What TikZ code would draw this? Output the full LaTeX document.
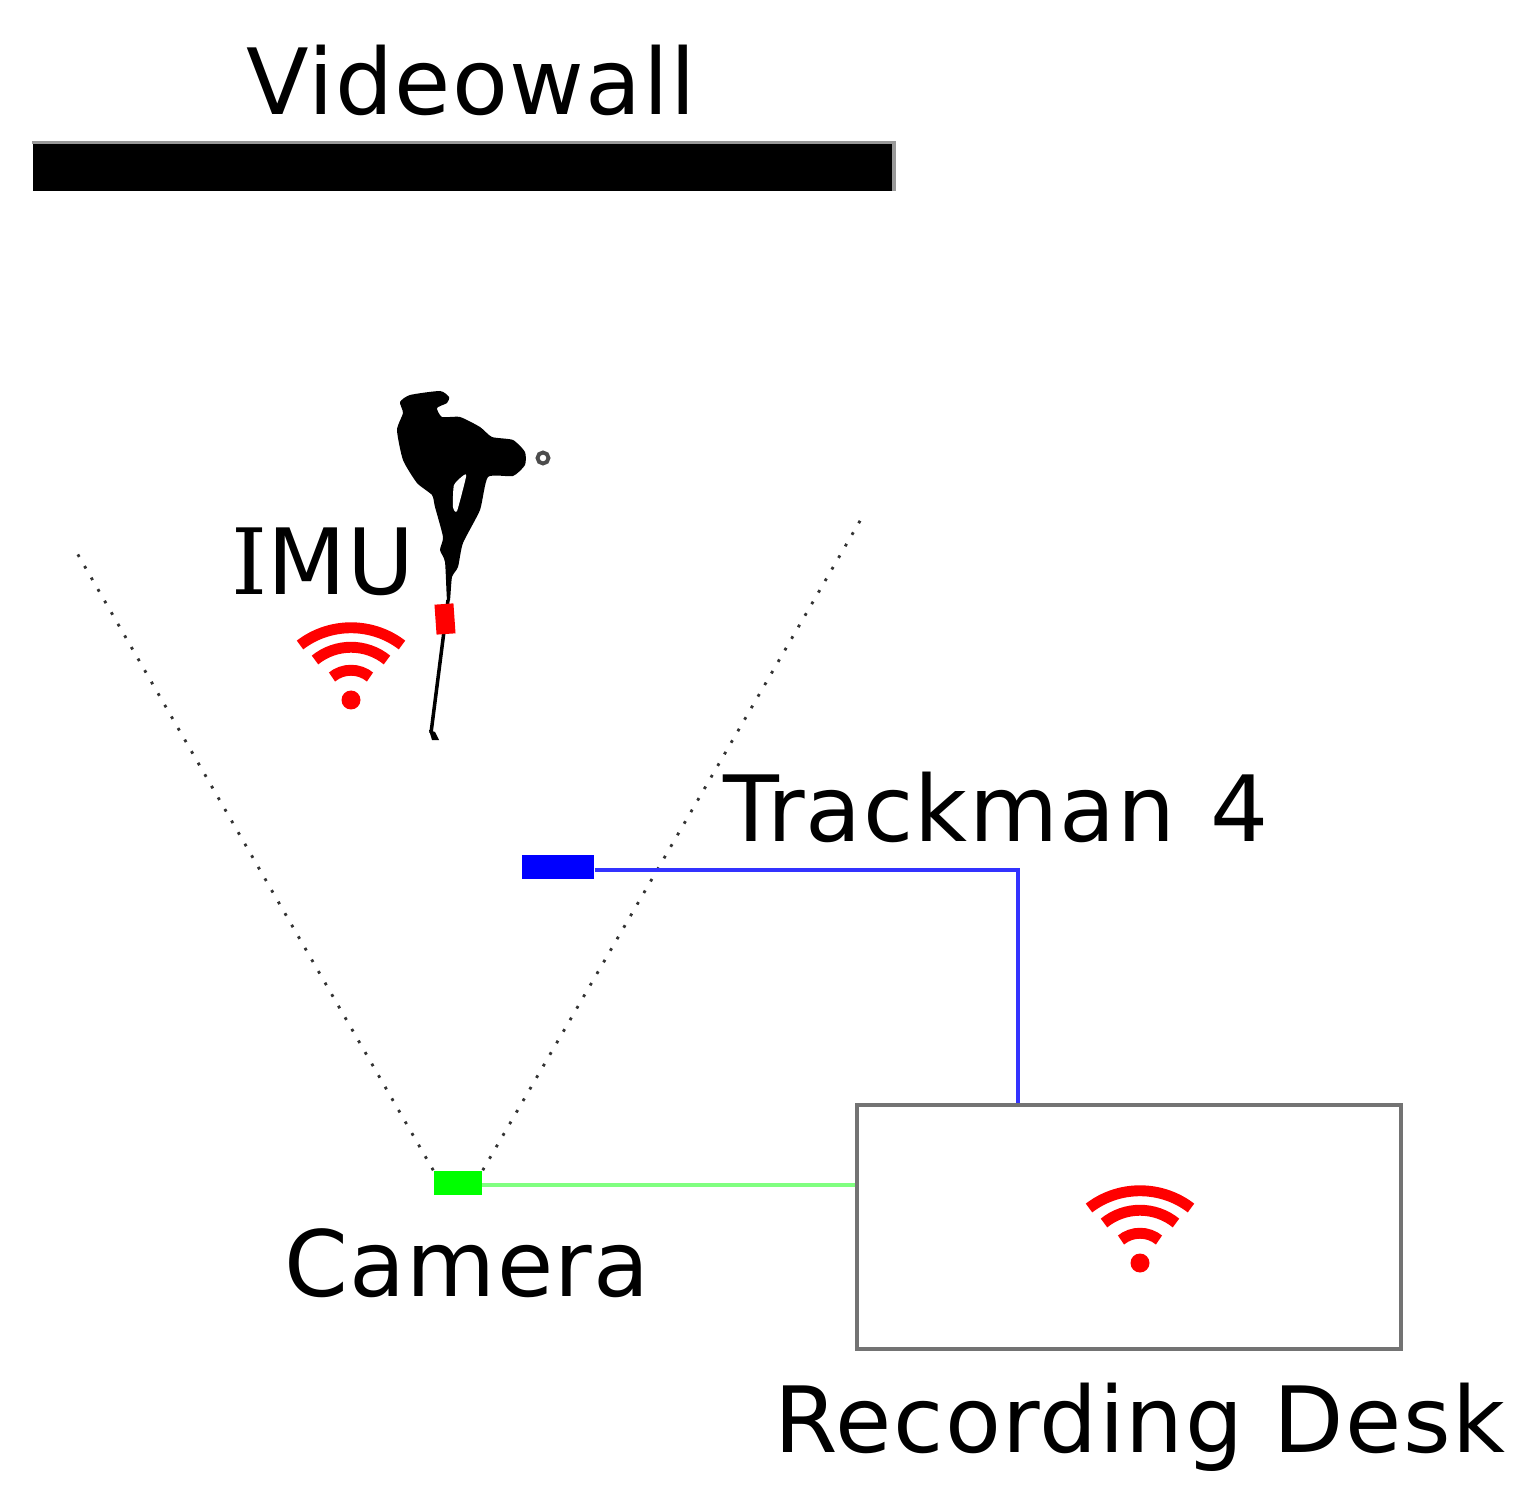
\documentclass[tikz,border=0pt]{standalone}
\usepackage{fontspec}
\setmainfont[LetterSpace=1.5]{DejaVu Sans}
\newfontfamily\slabfont{DejaVu Serif}
\newcommand{\wifisign}[2]{
  \fill [red] (#1, #2)circle(9.5);
  \draw [wifiarc] (#1-19, #2-23) .. controls (#1-8, #2-32) and (#1+8, #2-32) .. (#1+19, #2-23);
  \draw [wifiarc] (#1-36, #2-40) .. controls (#1-15, #2-57) and (#1+15, #2-57) .. (#1+36, #2-40);
  \draw [wifiarc] (#1-51, #2-55) .. controls (#1-21, #2-78) and (#1+21, #2-78) .. (#1+51, #2-55);
}
\tikzset{
  lab/.style={font=\fontsize{26}{30}\selectfont,text=black,inner sep=0pt,anchor=base},
  wifiarc/.style={red,line width=3.1pt},
  box/.style={rectangle,fill,inner sep=0pt},
  view/.style={black!80,line width=0.8pt,dash pattern=on 0.8pt off 3pt}
}
\begin{document}
\begin{tikzpicture}[x=0.01cm,y=-0.01cm]
  \useasboundingbox (0,0) rectangle (1523,1497);
  \node (wall) at (463,167)[box,fill=black,minimum width=8.6cm,minimum height=0.47cm]{};
  \draw [black!40, line width=0.9pt] (wall.north west) -- (wall.north east) -- (wall.south east);
  \node (walllab) at (471,115)[lab]{Videowall};

  \fill [black] plot [smooth cycle, tension=0.35] coordinates {(400,402) (410,395) (440,391) (449,397) (447,403) (437,408) (442,417)
     (460,417) (480,427) (492,437) (513,440) (525,452) (525,465) (513,476) (488,477)
     (480,510) (463,543) (458,567) (452,577) (450,600) (447,600) (445,562) (440,550)
     (443,537) (435,507) (432,495) (417,483) (403,460) (397,430) (403,413)};
  \fill [white] plot [smooth cycle, tension=0.35] coordinates {(464,475) (454,485) (453,507) (457,511) (466,477)};
  \draw [black, line width=1pt] (448,600) -- (431,733);
  \fill [black] (429,730) -- (435,732) -- (439,740) -- (432,740) -- cycle;
  \node (ball) at (543,458)[circle,draw=black!70,line width=1.1pt,inner sep=0pt,minimum size=0.11cm]{};
  \node (imu) at (445,619)[box,red,rotate=4,minimum width=0.19cm,minimum height=0.3cm]{};
  \node (imulab) at (323,595)[lab]{{\slabfont I}MU};
  \wifisign{351}{700}

  \node (tm) at (558,867)[box,blue,minimum width=0.72cm,minimum height=0.24cm]{};
  \node (tmlab) at (996,841)[lab]{Trackman\kern1.5pt{} 4};
  \node (cam) at (458,1183)[box,green,minimum width=0.48cm,minimum height=0.24cm]{};
  \node (camlab) at (467,1296)[lab]{Camera};
  \node (desk) at (1129,1227)[rectangle,draw=black!55,line width=1.2pt,minimum width=5.44cm,minimum height=2.44cm,inner sep=0pt]{};
  \node (desklab) at (1140,1452)[lab]{Recording Desk};
  \wifisign{1140}{1263}

  \coordinate (viewl) at (77,553);
  \coordinate (viewr) at (864,514);
  \coordinate (corner) at (1018,870);
  \coordinate (camout) at (482,1185);
  \draw [view] (cam.north west) -- (viewl);
  \draw [view] (cam.north east) -- (viewr);
  \draw [blue!80, line width=1pt] (tm.east |- corner) -- (corner) -- (corner |- desk.north);
  \draw [green!50, line width=1.3pt] (camout) -- (desk.west |- camout);
\end{tikzpicture}
\end{document}
